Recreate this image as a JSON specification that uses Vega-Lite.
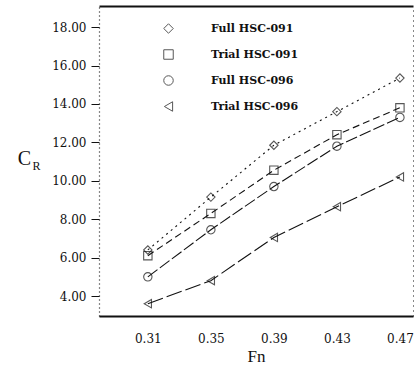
{
  "$schema": "https://vega.github.io/schema/vega-lite/v6.json",
  "width": 314,
  "height": 310,
  "autosize": {"type": "none"},
  "padding": {"left": 99, "top": 6, "right": 3, "bottom": 54},
  "background": "white",
  "config": {
    "view": {"stroke": null},
    "font": "DejaVu Serif",
    "axis": {"labelFont": "DejaVu Serif", "titleFont": "Liberation Serif", "labelColor": "#111", "domainColor": "#111", "tickColor": "#111", "titleColor": "#111", "grid": false}
  },
  "data": {
    "values": [
      {"Fn": 0.31, "CR": 6.4, "series": "Full HSC-091"},
      {"Fn": 0.35, "CR": 9.15, "series": "Full HSC-091"},
      {"Fn": 0.39, "CR": 11.85, "series": "Full HSC-091"},
      {"Fn": 0.43, "CR": 13.6, "series": "Full HSC-091"},
      {"Fn": 0.47, "CR": 15.35, "series": "Full HSC-091"},
      {"Fn": 0.31, "CR": 6.1, "series": "Trial HSC-091"},
      {"Fn": 0.35, "CR": 8.3, "series": "Trial HSC-091"},
      {"Fn": 0.39, "CR": 10.55, "series": "Trial HSC-091"},
      {"Fn": 0.43, "CR": 12.4, "series": "Trial HSC-091"},
      {"Fn": 0.47, "CR": 13.8, "series": "Trial HSC-091"},
      {"Fn": 0.31, "CR": 5.0, "series": "Full HSC-096"},
      {"Fn": 0.35, "CR": 7.45, "series": "Full HSC-096"},
      {"Fn": 0.39, "CR": 9.7, "series": "Full HSC-096"},
      {"Fn": 0.43, "CR": 11.8, "series": "Full HSC-096"},
      {"Fn": 0.47, "CR": 13.3, "series": "Full HSC-096"},
      {"Fn": 0.31, "CR": 3.6, "series": "Trial HSC-096"},
      {"Fn": 0.35, "CR": 4.8, "series": "Trial HSC-096"},
      {"Fn": 0.39, "CR": 7.05, "series": "Trial HSC-096"},
      {"Fn": 0.43, "CR": 8.65, "series": "Trial HSC-096"},
      {"Fn": 0.47, "CR": 10.2, "series": "Trial HSC-096"}
    ]
  },
  "layer": [
    {
      "transform": [{"filter": "datum.series === 'Full HSC-091'"}],
      "mark": {"type": "line", "color": "#111", "strokeWidth": 1.1, "strokeDash": [2, 4]},
      "encoding": {
        "x": {"field": "Fn", "type": "quantitative", "scale": {"domain": [0.279, 0.4783], "nice": false, "zero": false},
              "axis": {"orient": "bottom", "values": [0.31, 0.35, 0.39, 0.43, 0.47], "format": ".2f", "title": "Fn", "titleFontSize": 17, "titleFontWeight": "normal", "titlePadding": 4, "labelFontSize": 12, "labelPadding": 17, "ticks": false, "domainWidth": 2.2}},
        "y": {"field": "CR", "type": "quantitative", "scale": {"domain": [2.96, 19.1], "nice": false, "zero": false},
              "axis": {"orient": "left", "values": [4, 6, 8, 10, 12, 14, 16, 18], "format": ".2f", "title": "C", "titleAngle": 0, "titleFontSize": 20, "titleFontWeight": "normal", "titleX": -75, "titleY": 152, "titleAlign": "center", "titleBaseline": "middle", "labelFontSize": 12, "tickSize": 8, "labelPadding": 5, "domainDash": [1, 3], "domainWidth": 1.2}}
      }
    },
    {
      "transform": [{"filter": "datum.series === 'Trial HSC-091'"}],
      "mark": {"type": "line", "color": "#111", "strokeWidth": 1.1, "strokeDash": [7, 4]},
      "encoding": {
        "x": {"field": "Fn", "type": "quantitative", "axis": null},
        "y": {"field": "CR", "type": "quantitative", "axis": null}
      }
    },
    {
      "transform": [{"filter": "datum.series === 'Full HSC-096'"}],
      "mark": {"type": "line", "color": "#111", "strokeWidth": 1.1, "strokeDash": [12, 3]},
      "encoding": {
        "x": {"field": "Fn", "type": "quantitative", "axis": null},
        "y": {"field": "CR", "type": "quantitative", "axis": null}
      }
    },
    {
      "transform": [{"filter": "datum.series === 'Trial HSC-096'"}],
      "mark": {"type": "line", "color": "#111", "strokeWidth": 1.1, "strokeDash": [16, 4]},
      "encoding": {
        "x": {"field": "Fn", "type": "quantitative", "axis": null},
        "y": {"field": "CR", "type": "quantitative", "axis": null}
      }
    },
    {
      "mark": {"type": "point", "filled": false, "color": "#111", "size": 70, "strokeWidth": 1.1},
      "encoding": {
        "x": {"field": "Fn", "type": "quantitative", "axis": null},
        "y": {"field": "CR", "type": "quantitative", "axis": null},
        "shape": {"field": "series", "type": "nominal",
          "scale": {"domain": ["Full HSC-091", "Trial HSC-091", "Full HSC-096", "Trial HSC-096"], "range": ["diamond", "square", "circle", "triangle-left"]},
          "legend": {"title": null, "orient": "none", "legendX": 64, "legendY": 17, "labelFontSize": 11, "labelFontWeight": "bold", "labelFont": "DejaVu Serif", "labelColor": "#111", "labelOffset": 37, "rowPadding": 11, "symbolSize": 90, "symbolStrokeColor": "#111", "symbolFillColor": "transparent", "symbolStrokeWidth": 1}}
      }
    },
    {
      "mark": {"type": "point", "opacity": 0},
      "encoding": {
        "x": {"field": "Fn", "type": "quantitative", "axis": {"orient": "top", "labels": false, "ticks": false, "values": [], "title": null, "domainWidth": 2}},
        "y": {"field": "CR", "type": "quantitative", "axis": {"orient": "right", "labels": false, "ticks": false, "values": [], "domainDash": [1, 4], "title": "R", "titleAngle": 0, "titleFontSize": 12, "titleFontWeight": "normal", "titleX": -377, "titleY": 159, "titleAlign": "center", "titleBaseline": "middle"}}
      }
    }
  ],
  "resolve": {"axis": {"x": "independent", "y": "independent"}}
}
